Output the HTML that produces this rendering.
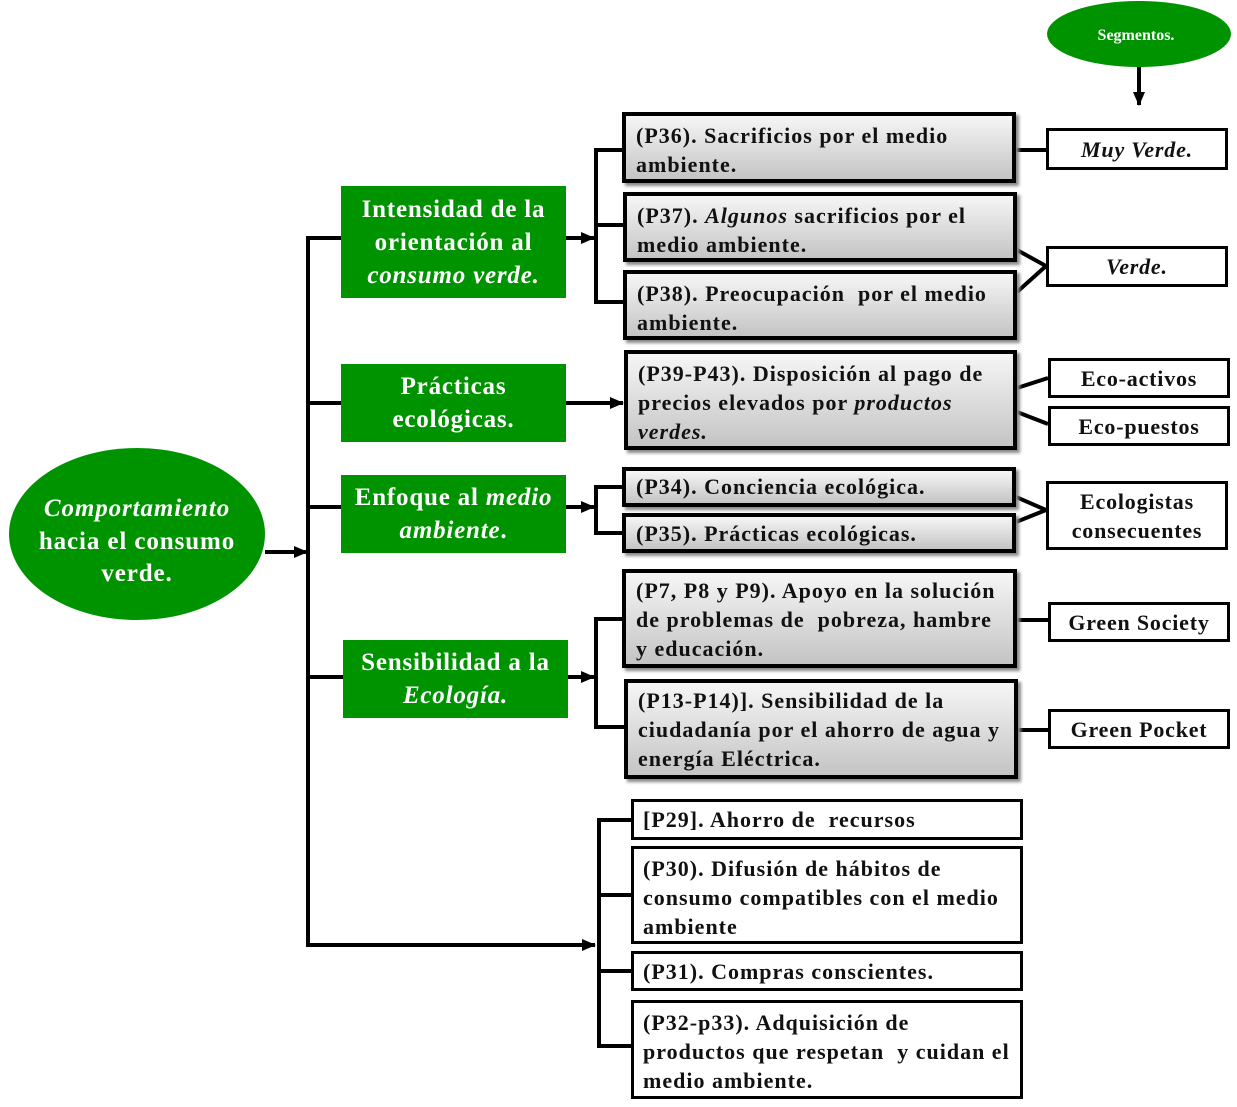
<!DOCTYPE html>
<html><head><meta charset="utf-8"><style>
body{margin:0;width:1237px;height:1107px;background:#fff;position:relative;overflow:hidden;font-family:"Liberation Serif",serif;font-weight:bold;}
.b{position:absolute;box-sizing:border-box;}
.g{background:#009300;color:#fff;text-align:center;font-size:25px;line-height:33px;display:flex;align-items:center;justify-content:center;letter-spacing:0.8px;}
.gr{border:4px solid #000;background:linear-gradient(#f6f6f6,#c4c4c4);box-shadow:3px 3px 3px #888;font-size:22px;line-height:29px;padding:2px 10px;color:#111;letter-spacing:1px;}
.w{border:3px solid #000;background:#fff;font-size:22px;line-height:29px;padding:4px 9px;color:#111;letter-spacing:1px;}
.r{border:3px solid #000;background:#fff;font-size:22px;display:flex;align-items:center;justify-content:center;text-align:center;line-height:29px;color:#111;letter-spacing:0.8px;}
svg{position:absolute;left:0;top:0;}
</style></head><body>
<svg width="1237" height="1107">
<defs><marker id="a" markerWidth="14" markerHeight="12" refX="13" refY="6" orient="auto" markerUnits="userSpaceOnUse"><path d="M0,0 L14,6 L0,12z" fill="#000"/></marker></defs>
<g stroke="#000" stroke-width="4" fill="none">
<ellipse cx="1139" cy="34" rx="92" ry="33" fill="#009300" stroke="none"/>
<line x1="1139" y1="67" x2="1139" y2="105" marker-end="url(#a)"/>
<ellipse cx="137" cy="534" rx="128" ry="86" fill="#009300" stroke="none"/>
<line x1="265" y1="552" x2="307" y2="552" marker-end="url(#a)"/>
<line x1="308" y1="236" x2="308" y2="947"/>
<line x1="308" y1="238" x2="341" y2="238"/>
<line x1="308" y1="403" x2="341" y2="403"/>
<line x1="308" y1="507" x2="341" y2="507"/>
<line x1="308" y1="677" x2="343" y2="677"/>
<line x1="308" y1="945" x2="595" y2="945" marker-end="url(#a)"/>
<line x1="566" y1="238" x2="594" y2="238" marker-end="url(#a)"/>
<path d="M622,150 H596 V302 H623 M596,225 H623"/>
<line x1="566" y1="403" x2="623" y2="403" marker-end="url(#a)"/>
<line x1="566" y1="507" x2="594" y2="507" marker-end="url(#a)"/>
<path d="M622,487 H596 V533 H622"/>
<line x1="568" y1="677" x2="594" y2="677" marker-end="url(#a)"/>
<path d="M622,619 H596 V727 H624"/>
<path d="M631,820 H599 V1046 H631 M599,895 H631 M599,971 H631"/>
<line x1="1016" y1="150" x2="1046" y2="150"/>
<path d="M1017,250 L1046,266 L1017,292"/>
<line x1="1017" y1="388" x2="1048" y2="378"/>
<line x1="1017" y1="412" x2="1048" y2="424"/>
<path d="M1016,497 L1046,510 L1016,522"/>
<line x1="1017" y1="620" x2="1048" y2="620"/>
<line x1="1018" y1="730" x2="1048" y2="730"/>
</g>
<text x="1136" y="40" fill="#fff" font-family="Liberation Serif" font-weight="bold" font-size="16" text-anchor="middle">Segmentos.</text>
<text fill="#fff" font-family="Liberation Serif" font-weight="bold" font-size="25" text-anchor="middle" letter-spacing="0.9"><tspan x="137" y="516" font-style="italic">Comportamiento</tspan><tspan x="137" y="549">hacia el consumo</tspan><tspan x="137" y="581">verde.</tspan></text>
</svg>
<div class="b g" style="left:341px;top:186px;width:225px;height:112px"><div>Intensidad de la<br>orientación al<br><i>consumo verde.</i></div></div>
<div class="b g" style="left:341px;top:364px;width:225px;height:78px"><div>Prácticas<br>ecológicas.</div></div>
<div class="b g" style="left:341px;top:475px;width:225px;height:78px"><div>Enfoque al <i>medio</i><br><i>ambiente</i>.</div></div>
<div class="b g" style="left:343px;top:640px;width:225px;height:78px"><div>Sensibilidad a la<br><i>Ecología.</i></div></div>

<div class="b gr" style="left:622px;top:112px;width:394px;height:71px;padding-top:5px">(P36). Sacrificios por el medio ambiente.</div>
<div class="b gr" style="left:623px;top:192px;width:394px;height:70px;padding-top:5px">(P37). <i>Algunos</i> sacrificios por el medio ambiente.</div>
<div class="b gr" style="left:623px;top:270px;width:394px;height:70px;padding-top:5px">(P38). Preocupación&nbsp; por el medio ambiente.</div>
<div class="b gr" style="left:624px;top:350px;width:393px;height:100px;padding-top:5px">(P39-P43). Disposición al pago de precios elevados por <i>productos verdes.</i></div>
<div class="b gr" style="left:622px;top:467px;width:394px;height:40px;padding-top:3px;line-height:26px">(P34). Conciencia ecológica.</div>
<div class="b gr" style="left:622px;top:513px;width:394px;height:40px;padding-top:4px;line-height:26px">(P35). Prácticas ecológicas.</div>
<div class="b gr" style="left:622px;top:569px;width:395px;height:99px;padding-top:3px">(P7, P8 y P9). Apoyo en la solución de problemas de&nbsp; pobreza, hambre y educación.</div>
<div class="b gr" style="left:624px;top:679px;width:394px;height:100px;padding-top:3px">(P13-P14)]. Sensibilidad de la ciudadanía por el ahorro de agua y energía Eléctrica.</div>

<div class="b w" style="left:631px;top:799px;width:392px;height:41px;padding-top:5px;line-height:26px">[P29]. Ahorro de&nbsp; recursos</div>
<div class="b w" style="left:631px;top:846px;width:392px;height:98px;padding-top:5px">(P30). Difusión de hábitos de consumo compatibles con el medio ambiente</div>
<div class="b w" style="left:631px;top:951px;width:392px;height:40px;padding-top:5px;line-height:26px">(P31). Compras conscientes.</div>
<div class="b w" style="left:631px;top:1000px;width:392px;height:99px;padding-top:5px">(P32-p33). Adquisición de productos que respetan&nbsp; y cuidan el medio ambiente.</div>

<div class="b r" style="left:1046px;top:128px;width:182px;height:42px"><i>Muy Verde.</i></div>
<div class="b r" style="left:1046px;top:246px;width:182px;height:41px"><i>Verde.</i></div>
<div class="b r" style="left:1048px;top:358px;width:182px;height:40px">Eco-activos</div>
<div class="b r" style="left:1048px;top:406px;width:182px;height:40px">Eco-puestos</div>
<div class="b r" style="left:1046px;top:481px;width:182px;height:69px"><div>Ecologistas<br>consecuentes</div></div>
<div class="b r" style="left:1048px;top:602px;width:182px;height:40px">Green Society</div>
<div class="b r" style="left:1048px;top:709px;width:182px;height:40px">Green Pocket</div>
</body></html>
